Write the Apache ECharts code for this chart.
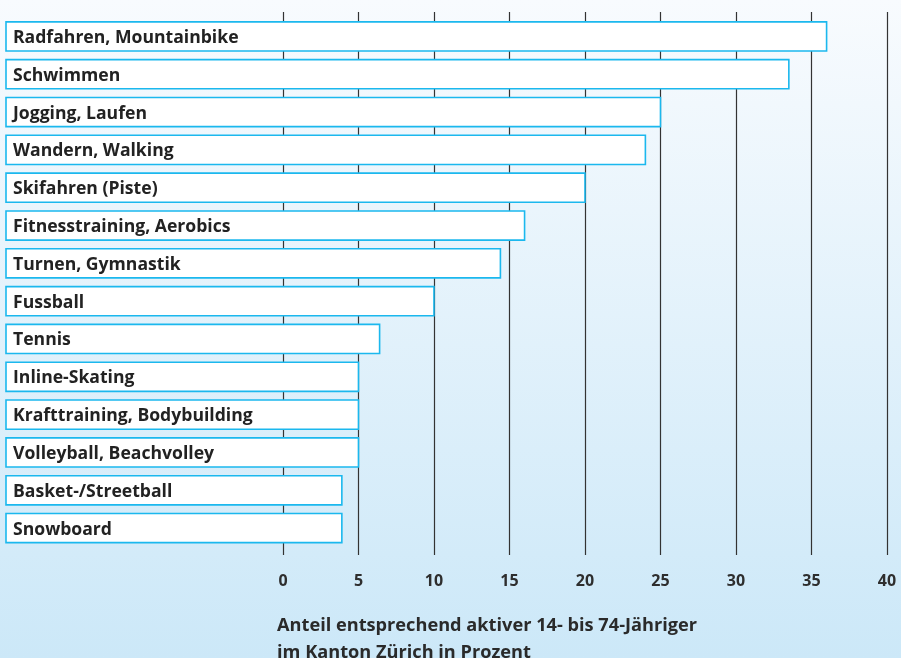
<!DOCTYPE html>
<html>
<head>
<meta charset="utf-8">
<script src="https://cdn.jsdelivr.net/npm/echarts@6/dist/echarts.min.js"></script>
<style>
  html, body { margin: 0; padding: 0; }
  #chart { width: 901px; height: 658px; }
</style>
</head>
<body>
<div id="chart"></div>
<script>
// Sportarten (von oben nach unten)
var sports = [
  "Radfahren, Mountainbike",
  "Schwimmen",
  "Jogging, Laufen",
  "Wandern, Walking",
  "Skifahren (Piste)",
  "Fitnesstraining, Aerobics",
  "Turnen, Gymnastik",
  "Fussball",
  "Tennis",
  "Inline-Skating",
  "Krafttraining, Bodybuilding",
  "Volleyball, Beachvolley",
  "Basket-/Streetball",
  "Snowboard"
];
// Anteil in Prozent
var shares = [36, 33.5, 25, 24, 20, 16, 14.4, 10, 6.4, 5, 5, 5, 3.9, 3.9];
// Balken beginnen links vom Nullpunkt (Platz für die Beschriftung)
var barStart = -18.34;
var axisMin = 0;
var axisMax = 40;
var axisStep = 5;
var axisTitle = "Anteil entsprechend aktiver 14- bis 74-Jähriger\nim Kanton Zürich in Prozent";

var font = "'Open Sans', Roboto, sans-serif";
var chart = echarts.init(document.getElementById("chart"));

var option = {
  animation: false,
  backgroundColor: {
    type: "linear", x: 0, y: 0, x2: 0, y2: 1,
    colorStops: [
      { offset: 0, color: "#f8fbfe" },
      { offset: 1, color: "#cce8f8" }
    ]
  },
  title: {
    text: axisTitle,
    left: 272,
    top: 607,
    textStyle: {
      fontFamily: font,
      fontSize: 18.2,
      fontWeight: "bold",
      color: "#2a2a2a",
      lineHeight: 27
    }
  },
  grid: [
    // Achse und Gitterlinien
    { left: 283, right: 14, top: 12, bottom: 103 },
    // Balken
    { left: 6, right: 14, top: 17.5, bottom: 111 }
  ],
  xAxis: [
    {
      gridIndex: 0,
      type: "value",
      min: axisMin,
      max: axisMax,
      interval: axisStep,
      axisLine: { show: false },
      axisTick: { show: false },
      splitLine: { show: true, lineStyle: { color: "#333333", width: 1.2 } },
      axisLabel: {
        margin: 18,
        fontFamily: font,
        fontSize: 16,
        fontWeight: "bold",
        color: "#2e2e2e"
      }
    },
    {
      gridIndex: 1,
      type: "value",
      min: barStart,
      max: axisMax,
      show: false
    }
  ],
  yAxis: [
    { gridIndex: 0, type: "value", show: false },
    { gridIndex: 1, type: "category", data: sports, inverse: true, show: false }
  ],
  series: [
    {
      type: "custom",
      xAxisIndex: 1,
      yAxisIndex: 1,
      encode: { x: 0, y: 1 },
      data: shares.map(function (v, i) { return [v, i]; }),
      renderItem: function (params, api) {
        var start = api.coord([barStart, api.value(1)]);
        var end = api.coord([api.value(0), api.value(1)]);
        var h = api.size([0, 1])[1] * 0.77;
        return {
          type: "group",
          children: [
            {
              type: "rect",
              shape: { x: start[0], y: start[1] - h / 2, width: end[0] - start[0], height: h },
              style: { fill: "#ffffff", stroke: "#1bb8ee", lineWidth: 1.6 }
            },
            {
              type: "text",
              style: {
                text: sports[params.dataIndex],
                x: start[0] + 7,
                y: start[1] + 1.5,
                verticalAlign: "middle",
                fill: "#222222",
                font: "bold 17.6px " + font
              }
            }
          ]
        };
      }
    }
  ]
};

chart.setOption(option);
</script>
</body>
</html>
